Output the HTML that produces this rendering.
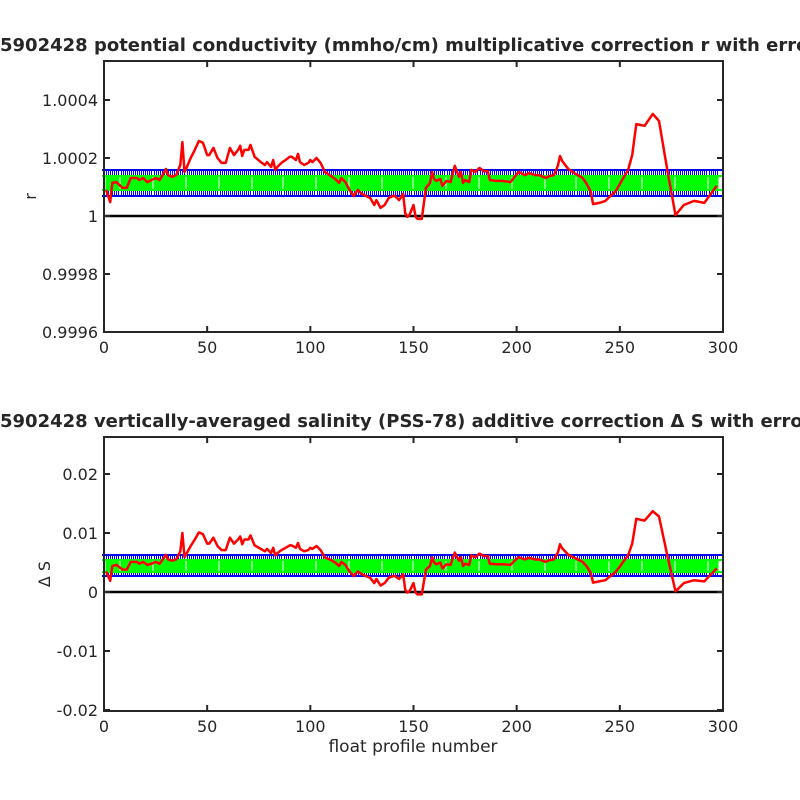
<!DOCTYPE html>
<html><head><meta charset="utf-8"><style>
html,body{margin:0;padding:0;background:#fff;width:800px;height:800px;overflow:hidden}
svg text{font-family:"DejaVu Sans","Liberation Sans",sans-serif;fill:#262626}
</style></head><body>
<svg id="chart" width="800" height="800" viewBox="0 0 800 800" xmlns="http://www.w3.org/2000/svg">
<rect width="800" height="800" fill="#fff"/>
</svg>
<script>
const profiles=[1,3,4,6,9,11,13,16,17,19,21,23,25,27,30,31,33,35,37,38,39,40,42,44,46,48,50,51,53,55,57,59,61,63,65,66,67,68,70,71,73,76,78,79,81,82,83,84,86,88,90,91,93,94,95,97,99,100,101,103,105,107,110,112,114,115,117,119,121,123,125,127,129,131,132,134,136,138,140,141,143,145,146,147,148,150,151,152,154,156,158,159,160,161,163,164,166,168,170,172,173,174,175,177,178,180,182,184,186,187,190,193,197,199,201,204,206,209,211,214,216,218,220,221,222,225,228,232,234,236,237,240,243,245,248,250,252,254,256,258,262,266,269,273,277,281,286,291,293,297];
// r-1 in ppm (1e-6)
const rPpm=[90,48,114,117,97,97,131,131,124,131,117,124,131,124,162,141,135,141,176,255,152,166,200,228,259,252,210,210,235,200,183,183,235,210,228,242,207,228,228,245,204,186,176,186,169,193,159,169,183,193,204,204,193,214,186,176,183,193,186,200,183,152,138,128,114,131,117,90,69,90,76,69,62,38,55,28,38,62,69,69,55,76,10,-3,3,38,-3,-10,-10,97,114,152,128,121,128,104,121,117,173,135,152,114,124,117,159,152,166,155,155,124,121,121,117,135,152,141,148,141,141,131,138,141,173,207,190,162,148,131,110,83,41,45,52,66,86,110,135,159,210,317,311,352,328,159,3,38,52,45,66,104];
// salinity correction in 1e-3 units
const sMil=[3.5,1.9,4.4,4.6,3.8,3.8,5.1,5.1,4.8,5.1,4.6,4.8,5.1,4.8,6.3,5.5,5.3,5.5,6.9,10.0,5.9,6.5,7.8,8.9,10.1,9.8,8.2,8.2,9.2,7.8,7.1,7.1,9.2,8.2,8.9,9.4,8.1,8.9,8.9,9.6,7.9,7.3,6.9,7.3,6.6,7.5,6.2,6.6,7.1,7.5,7.9,7.9,7.5,8.3,7.3,6.9,7.1,7.5,7.3,7.8,7.1,5.9,5.4,5.0,4.4,5.1,4.6,3.5,2.7,3.5,3.0,2.7,2.4,1.5,2.2,1.1,1.5,2.4,2.7,2.7,2.2,3.0,0.4,-0.1,0.1,1.5,-0.1,-0.4,-0.4,3.8,4.4,5.9,5.0,4.7,5.0,4.0,4.7,4.6,6.7,5.3,5.9,4.4,4.8,4.6,6.2,5.9,6.5,6.1,6.1,4.8,4.7,4.7,4.6,5.3,5.9,5.5,5.8,5.5,5.5,5.1,5.4,5.5,6.7,8.1,7.4,6.3,5.8,5.1,4.3,3.2,1.6,1.8,2.0,2.6,3.4,4.3,5.3,6.2,8.2,12.4,12.1,13.7,12.8,6.2,0.1,1.5,2.0,1.8,2.6,4.0];
const xTicks=[0,50,100,150,200,250,300];
const rTicks=[1.0004,1.0002,1,0.9998,0.9996];
const rTickLabels=["1.0004","1.0002","1","0.9998","0.9996"];
const sTicks=[0.02,0.01,0,-0.01,-0.02];
const sTickLabels=["0.02","0.01","0","-0.01","-0.02"];
const errR={center:114,blue:45,green:25};   // ppm
const errS={center:4.45,blue:1.75,green:1.0}; // 1e-3
const nProfiles=297;

const svg=document.getElementById('chart');
const NS='http://www.w3.org/2000/svg';
function mk(tag,attrs,parent){const e=document.createElementNS(NS,tag);for(const k in attrs)e.setAttribute(k,attrs[k]);(parent||svg).appendChild(e);return e;}
const X0=104,X1=723;
function xs(p){return X0+(p-0)/(300-0)*(X1-X0);}

function panel(cfg){
  const g=mk('g',{});
  
  
  const ys=v=>cfg.y0px+(cfg.v0-v)*cfg.pxPerUnit;
  const bands=[['blue',cfg.err.blue,'#0000ff',1],['green',cfg.err.green,'#00ff00',1.6]];
  bands.forEach(([nm,half,col,w])=>{
    const bg=mk('g',{'shape-rendering':'crispEdges'},g);
    
    
    const top=Math.round(ys(cfg.err.center+half)),bot=Math.round(ys(cfg.err.center-half));
    let d='';
    for(let p=1;p<=nProfiles;p++){const x=Math.round(xs(p))+0.5;d+=`M${x} ${top}V${bot}`;}
    mk('path',{d:d,stroke:col,'stroke-width':w,fill:'none'},bg);
    mk('line',{x1:xs(1)-4,x2:xs(nProfiles)+6,y1:top,y2:top,stroke:col,'stroke-width':2},bg);
    mk('line',{x1:xs(1)-4,x2:xs(nProfiles)+6,y1:bot,y2:bot,stroke:col,'stroke-width':2},bg);
  });
  const z=mk('line',{x1:X0,x2:X1,y1:ys(cfg.zero),y2:ys(cfg.zero),stroke:'#000','stroke-width':2.5},g);
  
  
  const pts=profiles.map((p,i)=>xs(p).toFixed(1)+','+ys(cfg.data[i]).toFixed(1)).join(' ');
  const pl=mk('polyline',{points:pts,fill:'none',stroke:'#ff0000','stroke-width':2.5,'stroke-linejoin':'round'},g);
  
  
  const top=cfg.top,bot=cfg.bot;
  const box=mk('rect',{x:X0,y:top,width:X1-X0,height:bot-top,fill:'none',stroke:'#262626','stroke-width':2},g);
  
  
  xTicks.forEach(t=>{
    const x=xs(t);
    mk('line',{x1:x,x2:x,y1:bot,y2:bot-6,stroke:'#262626','stroke-width':2},g);
    mk('line',{x1:x,x2:x,y1:top,y2:top+6,stroke:'#262626','stroke-width':2},g);
    const tx=mk('text',{x:x,y:bot+21,'text-anchor':'middle','font-size':16},g);
    tx.textContent=t;
    
    
  });
  cfg.ticks.forEach((t,i)=>{
    const y=ys(t);
    mk('line',{x1:X0,x2:X0+6,y1:y,y2:y,stroke:'#262626','stroke-width':2},g);
    mk('line',{x1:X1,x2:X1-6,y1:y,y2:y,stroke:'#262626','stroke-width':2},g);
    const tx=mk('text',{x:X0-6,y:y+6,'text-anchor':'end','font-size':16},g);
    tx.textContent=cfg.labels[i];
    
    
  });
  const yl=mk('text',{x:0,y:0,'text-anchor':'middle','font-size':16,transform:`translate(${cfg.ylx},${(top+bot)/2}) rotate(-90)`},g);
  yl.textContent=cfg.ylabel;
  
  
  const ti=mk('text',{x:0,y:top-10,'text-anchor':'start','font-size':18,'font-weight':'bold'},g);
  ti.textContent=cfg.title;
  
  
}
panel({name:'conductivity-panel',top:61,bot:332,y0px:216,v0:0,pxPerUnit:58/200,zero:0,
  data:rPpm,err:errR,ticks:rTicks.map(t=>Math.round((t-1)*1e6)),labels:rTickLabels,
  ylabel:'r',ylx:36,title:'5902428 potential conductivity (mmho/cm) multiplicative correction r with error'});
panel({name:'salinity-panel',top:437,bot:711,y0px:592,v0:0,pxPerUnit:59/10,zero:0,
  data:sMil,err:errS,ticks:sTicks.map(t=>t*1000),labels:sTickLabels,
  ylabel:'\u0394 S',ylx:50,title:'5902428 vertically-averaged salinity (PSS-78) additive correction \u0394 S with error'});
const xl=mk('text',{x:413,y:752,'text-anchor':'middle','font-size':17});
xl.textContent='float profile number';


</script>
</body></html>
